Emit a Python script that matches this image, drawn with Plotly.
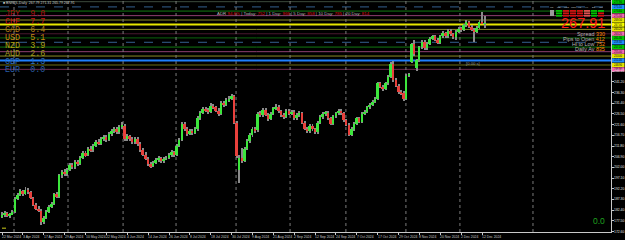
import plotly.graph_objects as go

# ---------------- data ----------------
date_labels = ["22 Mar 2024", "3 Apr 2024", "17 Apr 2024", "29 Apr 2024", "10 May 2024", "22 May 2024",
               "4 Jun 2024", "14 Jun 2024", "26 Jun 2024", "8 Jul 2024", "18 Jul 2024", "30 Jul 2024",
               "9 Aug 2024", "21 Aug 2024", "2 Sep 2024", "12 Sep 2024", "24 Sep 2024", "7 Oct 2024",
               "17 Oct 2024", "29 Oct 2024", "8 Nov 2024", "20 Nov 2024", "2 Dec 2024", "12 Dec 2024"]
date_label_bars = [0, 8, 16, 24, 32, 40, 48, 56, 64, 72, 80, 88, 96, 104, 112, 120, 128, 136, 144, 152,
                   160, 168, 176, 184]
separator_bars = [4.6, 25.3, 46.4, 66.7, 89.7, 110.4, 131.8, 154.8, 175.5, 203.5]

opens = [179.5, 180.0, 181.2, 179.8, 180.6, 181.5, 187.6, 189.5, 191.0, 189.8,
         191.8, 190.6, 188.0, 185.0, 183.0, 182.2, 177.0, 179.0, 181.8, 184.0,
         185.2, 189.8, 188.6, 198.5, 200.0, 198.8, 201.0, 203.0, 202.0, 204.5,
         203.5, 206.5, 208.5, 207.6, 210.5, 209.8, 212.0, 213.8, 212.9, 215.0,
         216.0, 214.5, 217.2, 218.5, 219.6, 218.0, 220.5, 221.0, 214.8, 216.2,
         215.0, 213.5, 215.2, 212.8, 210.0, 207.8, 206.0, 203.5, 202.6, 204.0,
         205.2, 206.2, 204.8, 206.0, 206.3, 207.5, 209.0, 207.6, 212.0, 214.6,
         221.8, 219.5, 217.5, 218.8, 217.8, 219.5, 224.5, 227.0, 228.8, 228.0,
         227.5, 230.2, 229.5, 228.0, 226.6, 231.5, 230.5, 232.8, 233.5, 234.5,
         222.5, 201.0, 206.2, 205.0, 210.5, 214.0, 216.8, 219.5, 219.0, 226.5,
         226.0, 228.5, 226.0, 224.0, 226.5, 229.0, 229.8, 227.8, 226.0, 225.0,
         227.8, 226.5, 227.5, 224.5, 226.0, 227.0, 222.5, 219.8, 218.5, 221.0,
         219.5, 218.0, 222.5, 225.0, 226.5, 227.0, 224.5, 222.0, 225.5, 226.8,
         228.0, 227.0, 223.5, 221.5, 217.0, 219.5, 222.0, 224.5, 223.0, 226.5,
         227.5, 229.5, 230.5, 232.0, 233.5, 240.5, 239.0, 238.0, 240.5, 243.5,
         249.5, 242.0, 239.5, 236.5, 236.0, 233.5, 244.0, 250.5, 258.5, 247.5,
         251.0, 257.0, 259.5, 256.5, 258.5, 261.0, 262.0, 260.5, 259.0, 262.0,
         263.5, 262.0, 264.5, 263.0, 261.5, 264.0, 265.5, 265.0, 267.0, 268.5,
         266.5, 265.0, 264.0, 266.0, 268.5, 267.79]
highs = [181.6, 182.0, 181.8, 181.3, 182.4, 188.3, 190.4, 191.9, 191.6, 192.8,
         192.5, 191.2, 188.6, 185.9, 184.2, 182.8, 179.6, 182.4, 184.6, 186.0,
         190.5, 190.6, 199.2, 201.0, 201.3, 201.9, 203.8, 204.1, 205.3, 205.6,
         207.4, 209.4, 209.5, 211.4, 211.6, 212.9, 214.6, 214.9, 215.9, 216.9,
         216.8, 218.0, 219.4, 220.5, 220.4, 221.3, 222.6, 221.8, 217.1, 217.0,
         215.8, 216.0, 215.9, 213.5, 210.8, 208.9, 206.8, 204.3, 204.9, 206.1,
         207.0, 206.9, 206.8, 207.2, 208.4, 209.8, 209.6, 212.8, 215.4, 222.7,
         222.6, 220.3, 219.6, 219.4, 220.3, 225.4, 227.9, 229.8, 229.6, 229.0,
         231.6, 231.0, 230.3, 229.2, 232.3, 232.4, 233.6, 234.5, 235.6, 235.3,
         223.1, 207.6, 210.8, 211.2, 214.9, 217.6, 220.4, 220.6, 227.2, 227.8,
         229.4, 229.3, 226.9, 227.4, 229.8, 231.0, 230.6, 228.5, 226.8, 228.6,
         228.6, 228.4, 228.2, 226.8, 227.9, 227.6, 223.2, 220.5, 221.8, 221.7,
         220.2, 223.3, 225.8, 227.2, 227.9, 227.7, 225.2, 226.2, 227.6, 228.9,
         228.7, 227.6, 224.2, 222.2, 220.3, 222.8, 225.3, 225.2, 227.3, 228.3,
         230.3, 231.4, 232.8, 234.3, 241.3, 241.3, 239.8, 241.3, 244.3, 250.3,
         250.6, 242.8, 240.3, 237.3, 236.8, 244.8, 245.3, 258.9, 260.2, 251.8,
         257.8, 260.3, 260.2, 259.3, 261.8, 262.8, 262.6, 261.2, 262.8, 264.3,
         264.2, 265.3, 265.2, 263.7, 264.8, 266.3, 266.4, 267.8, 269.3, 269.2,
         267.2, 265.8, 266.8, 269.3, 273.2, 271.31]
lows = [178.8, 179.4, 179.2, 179.0, 180.1, 181.2, 186.9, 188.7, 189.0, 189.3,
        189.9, 187.4, 184.3, 182.4, 181.5, 175.8, 176.2, 178.4, 181.0, 183.2,
        184.8, 187.9, 188.0, 197.2, 197.9, 198.1, 200.2, 201.2, 201.4, 202.6,
        203.0, 205.8, 206.8, 207.0, 209.0, 209.2, 211.3, 212.1, 212.2, 214.2,
        213.7, 213.9, 216.6, 217.8, 217.2, 217.5, 219.8, 214.0, 214.0, 214.3,
        212.6, 212.9, 212.0, 209.2, 207.0, 205.2, 202.7, 201.6, 202.0, 203.4,
        204.4, 204.0, 204.1, 205.3, 205.7, 206.9, 206.8, 207.0, 211.4, 214.0,
        218.8, 216.6, 216.9, 217.0, 217.1, 218.9, 223.8, 226.3, 227.2, 226.4,
        226.9, 228.6, 227.2, 225.6, 226.0, 229.7, 229.9, 232.0, 232.8, 222.0,
        206.2, 194.9, 204.0, 204.4, 209.8, 213.2, 216.0, 217.8, 218.4, 224.9,
        225.3, 225.4, 223.1, 223.5, 225.9, 228.2, 227.0, 225.2, 224.2, 224.4,
        225.8, 225.9, 223.8, 223.9, 225.2, 221.8, 219.0, 217.6, 217.9, 218.8,
        217.2, 217.4, 221.9, 224.3, 225.6, 223.8, 221.3, 221.5, 224.8, 226.2,
        226.2, 222.8, 220.8, 216.2, 216.4, 218.9, 221.4, 222.3, 222.4, 225.8,
        226.9, 228.8, 229.9, 231.3, 232.9, 238.3, 236.9, 237.4, 239.9, 242.9,
        241.3, 238.6, 235.7, 235.2, 232.6, 232.9, 243.2, 249.8, 253.2, 246.0,
        250.4, 256.2, 255.8, 255.9, 257.9, 260.3, 259.9, 258.3, 258.4, 261.3,
        261.2, 261.4, 262.3, 260.8, 260.4, 263.4, 264.2, 264.4, 266.3, 265.8,
        264.3, 259.5, 263.4, 265.4, 267.5, 265.79]
closes = [180.0, 181.2, 179.8, 180.6, 181.5, 187.6, 189.5, 191.0, 189.8, 191.8,
          190.6, 188.0, 185.0, 183.0, 182.2, 177.0, 179.0, 181.8, 184.0, 185.2,
          189.8, 188.6, 198.5, 200.0, 198.8, 201.0, 203.0, 202.0, 204.5, 203.5,
          206.5, 208.5, 207.6, 210.5, 209.8, 212.0, 213.8, 212.9, 215.0, 216.0,
          214.5, 217.2, 218.5, 219.6, 218.0, 220.5, 221.0, 214.8, 216.2, 215.0,
          213.5, 215.2, 212.8, 210.0, 207.8, 206.0, 203.5, 202.6, 204.0, 205.2,
          206.2, 204.8, 206.0, 206.3, 207.5, 209.0, 207.6, 212.0, 214.6, 221.8,
          219.5, 217.5, 218.8, 217.8, 219.5, 224.5, 227.0, 228.8, 228.0, 227.5,
          230.2, 229.5, 228.0, 226.6, 231.5, 230.5, 232.8, 233.5, 234.5, 222.5,
          207.0, 206.2, 205.0, 210.5, 214.0, 216.8, 219.5, 219.0, 226.5, 226.0,
          228.5, 226.0, 224.0, 226.5, 229.0, 229.8, 227.8, 226.0, 225.0, 227.8,
          226.5, 227.5, 224.5, 226.0, 227.0, 222.5, 219.8, 218.5, 221.0, 219.5,
          218.0, 222.5, 225.0, 226.5, 227.0, 224.5, 222.0, 225.5, 226.8, 228.0,
          227.0, 223.5, 221.5, 217.0, 219.5, 222.0, 224.5, 223.0, 226.5, 227.5,
          229.5, 230.5, 232.0, 233.5, 240.5, 239.0, 238.0, 240.5, 243.5, 249.5,
          242.0, 239.5, 236.5, 236.0, 233.5, 244.0, 244.5, 258.5, 254.0, 251.0,
          257.0, 259.5, 256.5, 258.5, 261.0, 262.0, 260.5, 259.0, 262.0, 263.5,
          262.0, 264.5, 263.0, 261.5, 264.0, 265.5, 265.0, 267.0, 268.5, 266.5,
          265.0, 264.0, 266.0, 268.5, 267.79, 267.91]

price_ticks = [172.60, 177.50, 182.40, 187.30, 192.20, 197.10, 202.00, 206.90, 211.80, 216.70,
               221.60, 226.50, 231.40, 236.30, 241.20, 246.10]

level_prices = [277.9, 275.5, 273.6, 271.5, 269.5, 267.4, 265.2, 263.2, 261.3, 259.3,
                257.1, 255.0, 253.0, 251.0, 248.9, 246.9]
level_line_colors = ["#3c4a3c", "#34608f", "#127a12", "#8e3f70", "#8a8a26", "#e8e800", "#8c8c2a", "#47182e",
                     "#0d620d", "#34608f", "#127a12", "#8e3f70", "#8a8a26", "#1e80ff", "#6c6c14", "#6e2b4e"]
level_line_widths = [1, 1, 1, 1, 1, 2, 1, 1, 1, 1, 1, 1, 1, 2, 1, 1]
level_line_dash = ["solid", "dash", "solid", "solid", "solid", "solid", "solid", "solid",
                   "solid", "dash", "solid", "solid", "solid", "solid", "solid", "solid"]
level_tag_colors = ["#00c800", "#1e90ff", "#00c800", "#ff69b4", "#e6e600", "#ffff00", "#e6e600", "#ff69b4",
                    "#00c800", "#1e90ff", "#00c800", "#ff69b4", "#e6e600", "#1e90ff", "#e6e600", "#ff69b4"]

currencies = ["JPY", "CHF", "CAD", "USD", "NZD", "AUD", "GBP", "EUR"]
strengths = ["9.0", "7.7", "6.4", "5.1", "3.9", "2.6", "1.3", "0.0"]
currency_colors = ["#a81212", "#cc1616", "#b07818", "#c48a12", "#b0a414", "#a09c1c", "#2f6fbe", "#2a5ea6"]

adr_items = [("ADR", "94.6%"), ("Today:", "752"), ("1 Day:", "966"), ("5 Day:", "858"),
             ("10 Day:", "785"), ("20 Day:", "814")]
info_labels = ["Spread", "Pips to Open", "Hi to Low", "Daily Av"]
info_values = ["330", "412", "752", "835"]
tf_labels = ["M1", "M5", "M15", "M30", "H1", "H4", "D1", "W1"]
tf_colors = [["#00c000", "#00c000", "#00c000"], ["#d01010", "#d01010", "#d01010"],
             ["#d01010", "#d01010", "#d01010"], ["#d01010", "#d01010", "#d01010"],
             ["#e05050", "#e05050", "#e05050"], ["#00c000", "#00c000", "#00c000"],
             ["#00c000", "#d01010", "#d01010"]]
title_text = "■ BNRQL,Daily  267.79 271.31 265.79 267.91"
last_price = "267.91"

# ---------------- geometry ----------------
W, H = 625, 240
ML, MR, MT, MB = 0, 14, 0, 8
PW, PH = W - ML - MR, H - MT - MB
YMIN, YMAX = 172.41, 278.67
XMIN, XMAX = -0.77, 233.4


def px_x(px):
    return (px - ML) / PW


def px_y(py):
    return 1 - (py - MT) / PH


def price_to_paper(p):
    return (p - YMIN) / (YMAX - YMIN)


n = len(closes)
idx = list(range(n))
bull = "#3ce63c"
bear = "#e8403c"

body_base = [min(o, c) for o, c in zip(opens, closes)]
body_h = [max(abs(c - o), 0.25) for o, c in zip(opens, closes)]
body_col = [bull if c >= o else bear for o, c in zip(opens, closes)]

fig = go.Figure()
fig.add_trace(go.Bar(x=idx, y=[h - l for h, l in zip(highs, lows)], base=lows, width=0.38,
                     marker=dict(color="#8a8a8a", line=dict(width=0)), hoverinfo="skip"))
fig.add_trace(go.Bar(x=idx, y=body_h, base=body_base, width=0.76,
                     marker=dict(color=body_col, line=dict(width=0)), hoverinfo="skip"))

shapes = []
annotations = []

# level lines
for p, c, w, d in zip(level_prices, level_line_colors, level_line_widths, level_line_dash):
    shapes.append(dict(type="line", xref="paper", yref="y", x0=0, x1=1, y0=p, y1=p,
                       line=dict(color=c, width=w, dash=d), layer="below"))

# period separators
for b in separator_bars:
    shapes.append(dict(type="line", xref="x", yref="paper", x0=b, x1=b, y0=0, y1=1,
                       line=dict(color="#7a7a7a", width=1, dash="dot"), layer="below"))

# level tags on price scale
for p, c in zip(level_prices, level_tag_colors):
    yc = price_to_paper(p)
    shapes.append(dict(type="rect", xref="paper", yref="paper", x0=px_x(612), x1=px_x(624.5),
                       y0=yc - 2.1 / PH, y1=yc + 2.1 / PH, fillcolor=c, line=dict(width=0)))
    annotations.append(dict(xref="paper", yref="paper", x=px_x(618), y=yc, text=f"{p:.2f}",
                            showarrow=False, borderpad=0,
                            font=dict(size=2.6, color="#000000", family="Liberation Sans"),
                            xanchor="center", yanchor="middle"))

# price scale labels
for p in price_ticks:
    annotations.append(dict(xref="paper", yref="paper", x=px_x(613), y=price_to_paper(p), text=f"{p:.2f}",
                            showarrow=False, borderpad=0, xanchor="left", yanchor="middle",
                            font=dict(size=3.4, color="#e0e0e0", family="Liberation Sans")))

# date labels
for b, t in zip(date_label_bars, date_labels):
    annotations.append(dict(xref="x", yref="paper", x=b, y=px_y(236.6), text=t, showarrow=False,
                            xanchor="left", yanchor="middle", xshift=-1, borderpad=0,
                            font=dict(size=3.4, color="#c8c8c8", family="Liberation Sans")))

# title
annotations.append(dict(xref="paper", yref="paper", x=px_x(2), y=px_y(3), text=title_text, showarrow=False,
                        xanchor="left", yanchor="middle", borderpad=0,
                        font=dict(size=3.5, color="#c8c8c8", family="Liberation Sans")))

# currency strength
for k, (cur, s, col) in enumerate(zip(currencies, strengths, currency_colors)):
    annotations.append(dict(xref="paper", yref="paper", x=px_x(4), y=px_y(14 + 8 * k),
                            text=f"{cur}&nbsp;&nbsp;{s}", showarrow=False, xanchor="left", yanchor="middle",
                            borderpad=0, font=dict(size=8.4, color=col, family="Liberation Mono")))

# ADR line
adr_parts = []
for lab, val in adr_items:
    adr_parts.append(f'{lab} <span style="color:#e01010">{val}</span>')
annotations.append(dict(xref="paper", yref="paper", x=px_x(216), y=px_y(13.7), text=" | ".join(adr_parts),
                        showarrow=False, xanchor="left", yanchor="middle", borderpad=0,
                        font=dict(size=4.4, color="#b4b4b4", family="Liberation Sans")))

# timeframe panel
for k, lab in enumerate(tf_labels):
    annotations.append(dict(xref="paper", yref="paper", x=px_x(552 + 7 * k), y=px_y(7.3), text=lab,
                            showarrow=False, xanchor="center", yanchor="middle", borderpad=0,
                            font=dict(size=2.5, color="#d0d0d0", family="Liberation Sans")))
shapes.append(dict(type="rect", xref="paper", yref="paper", x0=px_x(550), x1=px_x(554),
                   y0=px_y(16), y1=px_y(10), fillcolor="#9a9a9a", line=dict(width=0)))
for k, cols in enumerate(tf_colors):
    x0 = 556 + 7 * k
    for s, c in enumerate(cols):
        y0 = 10 + s * 2.4
        shapes.append(dict(type="rect", xref="paper", yref="paper", x0=px_x(x0), x1=px_x(x0 + 6),
                           y0=px_y(y0 + 1.8), y1=px_y(y0), fillcolor=c, line=dict(width=0)))

# big price
annotations.append(dict(xref="paper", yref="paper", x=px_x(606), y=px_y(23.5), text=last_price, showarrow=False,
                        xanchor="right", yanchor="middle", borderpad=0,
                        font=dict(size=14.5, color="#ff1a1a", family="Liberation Sans")))

# info lines
for k, (lab, val) in enumerate(zip(info_labels, info_values)):
    annotations.append(dict(xref="paper", yref="paper", x=px_x(606), y=px_y(34.0 + 5 * k),
                            text=f'{lab} <span style="color:#ff8c00">{val}</span>', showarrow=False,
                            xanchor="right", yanchor="middle", borderpad=0,
                            font=dict(size=5.4, color="#b4b4b4", family="Liberation Sans")))

# misc texts
annotations.append(dict(xref="paper", yref="paper", x=px_x(465), y=px_y(63), text="[0.00 s]", showarrow=False,
                        xanchor="left", yanchor="middle", borderpad=0,
                        font=dict(size=4.2, color="#9a9a9a", family="Liberation Sans")))
annotations.append(dict(xref="paper", yref="paper", x=px_x(606), y=px_y(221), text="0.0", showarrow=False,
                        xanchor="right", yanchor="middle", borderpad=0,
                        font=dict(size=8.5, color="#1fa01f", family="Liberation Sans")))
shapes.append(dict(type="rect", xref="paper", yref="paper", x0=px_x(2), x1=px_x(6),
                   y0=px_y(229), y1=px_y(227.5), fillcolor="#8a8a10", line=dict(width=0)))

fig.update_layout(
    width=W, height=H,
    margin=dict(l=ML, r=MR, t=MT, b=MB, pad=0),
    paper_bgcolor="#000000", plot_bgcolor="#000000",
    showlegend=False, barmode="overlay", bargap=0,
    shapes=shapes, annotations=annotations,
    xaxis=dict(range=[XMIN, XMAX], showgrid=False, zeroline=False, showline=True, linecolor="#c8c8c8",
               linewidth=1, ticks="outside", ticklen=2, tickcolor="#c8c8c8", tickvals=date_label_bars,
               showticklabels=False, automargin=False, fixedrange=True),
    yaxis=dict(range=[YMIN, YMAX], side="right", showgrid=False, zeroline=False, showline=True,
               linecolor="#c8c8c8", linewidth=1, ticks="outside", ticklen=1.5, tickcolor="#c8c8c8",
               tickvals=price_ticks, showticklabels=False, automargin=False, fixedrange=True),
)

fig.write_html("out.html")
